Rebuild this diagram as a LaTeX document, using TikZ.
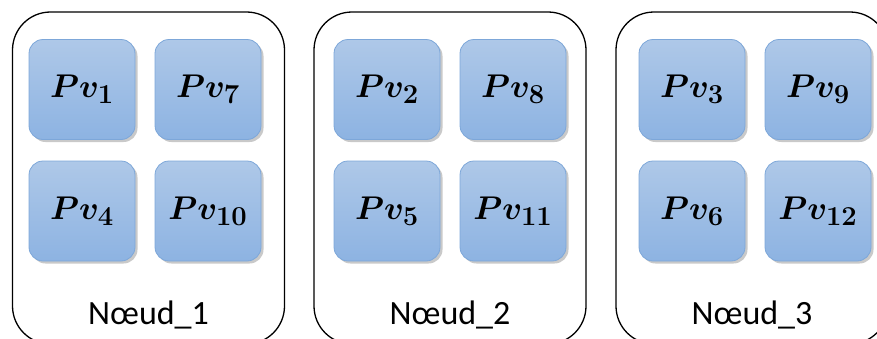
\documentclass[tikz,border=0pt]{standalone}
\usepackage{amsmath,amssymb}
\usepackage{fontspec}
\newfontfamily\nodefont{Carlito}
\usepackage{tikz}
\usetikzlibrary{shadows, positioning}

\definecolor{pvtop}{HTML}{AEC8E8}
\definecolor{pvbot}{HTML}{8DB3E2}
\definecolor{pvline}{HTML}{7DA7D9}
\newcommand{\pvname}[1]{\scalebox{1.32}{$\boldsymbol{Pv_{#1}}$}}

\begin{document}
\begin{tikzpicture}[
    x=1pt, y=-1pt,
    host/.style={draw, line width=1.3pt, rounded corners=38pt, minimum width=272pt, minimum height=332pt, inner sep=0pt},
    pv/.style={draw=pvline, line width=0.8pt, rounded corners=14pt, top color=pvtop, bottom color=pvbot,
        minimum width=106pt, minimum height=100pt, inner sep=0pt, font=\Huge,
        drop shadow={shadow xshift=2.5pt, shadow yshift=-2.5pt, opacity=0.3, fill=black!70}},
    hlabel/.style={font=\nodefont\fontsize{34}{40}\selectfont},
]
\useasboundingbox (0,0) rectangle (877,338);

% ── Hosts ──
\node[host] (N1) at (148.5,178) {};
\node[host] (N2) at (450,178) {};
\node[host] (N3) at (752,178) {};

\node[hlabel] (L1) at (148.5,315) {Nœud\_1};
\node[hlabel] (L2) at (450,315) {Nœud\_2};
\node[hlabel] (L3) at (752,315) {Nœud\_3};

% ── Virtual processors (row 1) ──
\node[pv] (P1) at (82,89.5) {\pvname{1}};
\node[pv] (P7) at (208,89.5) {\pvname{7}};
\node[pv] (P2) at (387,89.5) {\pvname{2}};
\node[pv] (P8) at (513,89.5) {\pvname{8}};
\node[pv] (P3) at (692,89.5) {\pvname{3}};
\node[pv] (P9) at (818,89.5) {\pvname{9}};

% ── Virtual processors (row 2) ──
\node[pv] (P4) at (82,211) {\pvname{4}};
\node[pv] (P10) at (208,211) {\pvname{10}};
\node[pv] (P5) at (387,211) {\pvname{5}};
\node[pv] (P11) at (513,211) {\pvname{11}};
\node[pv] (P6) at (692,211) {\pvname{6}};
\node[pv] (P12) at (818,211) {\pvname{12}};

\end{tikzpicture}
\end{document}
